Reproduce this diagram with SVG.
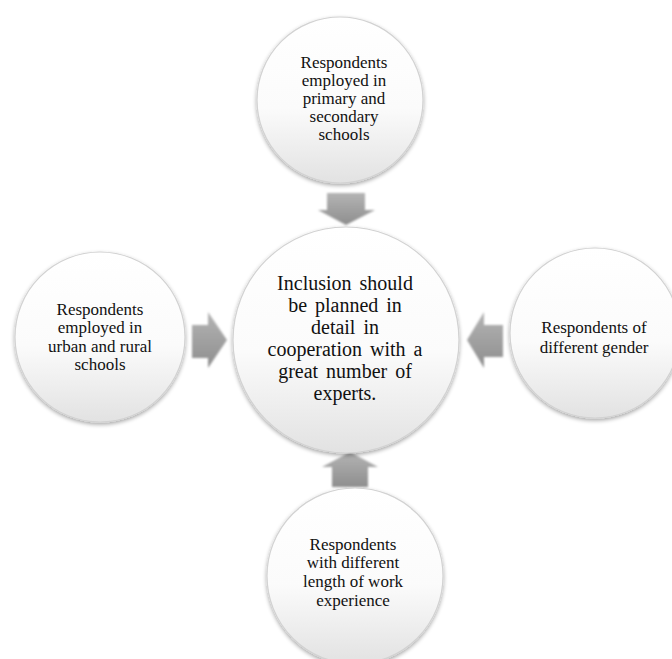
<svg xmlns="http://www.w3.org/2000/svg" width="672" height="659" viewBox="0 0 672 659">
<defs>
<linearGradient id="cg" x1="0" y1="0" x2="0" y2="1">
<stop offset="0" stop-color="#ffffff"/>
<stop offset="0.55" stop-color="#fbfbfb"/>
<stop offset="1" stop-color="#e2e2e2"/>
</linearGradient>
<linearGradient id="ag" x1="0" y1="0" x2="0" y2="1">
<stop offset="0" stop-color="#b4b4b4"/>
<stop offset="1" stop-color="#8e8e8e"/>
</linearGradient>
<filter id="sh" x="-20%" y="-20%" width="140%" height="140%">
<feGaussianBlur in="SourceAlpha" stdDeviation="2"/>
<feOffset dx="0" dy="2" result="b"/>
<feComponentTransfer><feFuncA type="linear" slope="0.35"/></feComponentTransfer>
<feMerge><feMergeNode/><feMergeNode in="SourceGraphic"/></feMerge>
</filter>
<filter id="soft" x="-20%" y="-20%" width="140%" height="140%">
<feGaussianBlur stdDeviation="0.8"/>
</filter>
</defs>
<style>
.c{fill:url(#cg);stroke:#d2d2d2;stroke-width:1.2;filter:url(#sh)}
.a{fill:url(#ag);filter:url(#soft)}
text{font-family:"Liberation Serif","Times New Roman",serif;fill:#111111;text-anchor:middle}
.s{font-size:17px}
.m{font-size:20px;word-spacing:3px}
</style>
<rect width="672" height="659" fill="#ffffff"/>
<g id="connectors">
<polygon class="a" points="327,193 365,193 365,210 375,210 346,225 318,210 327,210"/>
<polygon class="a" points="192,325 208,325 208,312 227,340 208,368 208,358 192,358"/>
<polygon class="a" points="503,325 484,325 484,312 467,340 484,368 484,357 503,357"/>
<polygon class="a" points="332,487 368,487 368,467 378,467 350,452 322,467 332,467"/>
</g>
<g id="top">
<circle class="c" cx="340" cy="100" r="83"/>
<text class="s"><tspan x="344" y="68">Respondents</tspan><tspan x="344" y="86">employed in</tspan><tspan x="344" y="104">primary and</tspan><tspan x="344" y="122">secondary</tspan><tspan x="344" y="140">schools</tspan></text>
</g>
<g id="center">
<circle class="c" cx="346" cy="340" r="113"/>
<text class="m"><tspan x="345" y="290">Inclusion should</tspan><tspan x="345" y="312">be planned in</tspan><tspan x="345" y="334">detail in</tspan><tspan x="345" y="356">cooperation with a</tspan><tspan x="345" y="378">great number of</tspan><tspan x="345" y="400">experts.</tspan></text>
</g>
<g id="left">
<circle class="c" cx="100" cy="337" r="85"/>
<text class="s"><tspan x="100" y="315">Respondents</tspan><tspan x="100" y="333">employed in</tspan><tspan x="100" y="352">urban and rural</tspan><tspan x="100" y="370">schools</tspan></text>
</g>
<g id="right">
<circle class="c" cx="595" cy="333" r="85"/>
<text class="s"><tspan x="594" y="333">Respondents of</tspan><tspan x="594" y="353">different gender</tspan></text>
</g>
<g id="bottom">
<circle class="c" cx="355" cy="576" r="88"/>
<text class="s"><tspan x="353" y="550">Respondents</tspan><tspan x="353" y="568">with different</tspan><tspan x="353" y="587">length of work</tspan><tspan x="353" y="606">experience</tspan></text>
</g>
</svg>
